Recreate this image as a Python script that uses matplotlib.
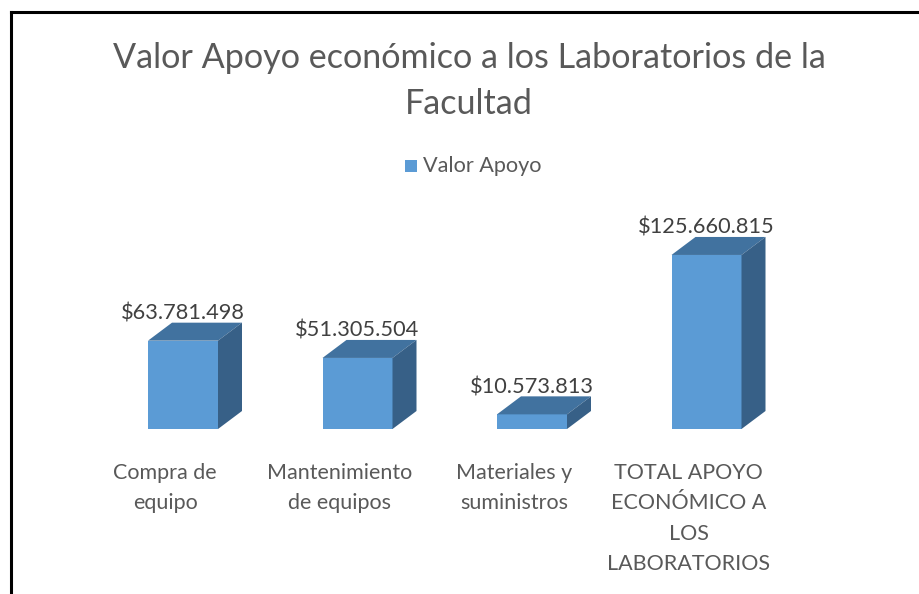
import matplotlib
matplotlib.use("Agg")
import matplotlib.pyplot as plt
from matplotlib.patches import Polygon, Rectangle
from matplotlib.lines import Line2D

categories = ["Compra de\nequipo", "Mantenimiento\nde equipos", "Materiales y\nsuministros",
              "TOTAL APOYO\nECONÓMICO A\nLOS\nLABORATORIOS"]
values = [63781498, 51305504, 10573813, 125660815]
value_labels = ["$63.781.498", "$51.305.504", "$10.573.813", "$125.660.815"]
series_name = "Valor Apoyo"
title = "Valor Apoyo económico a los Laboratorios de la\nFacultad"

FONT = "Lato"
plt.rcParams["font.family"] = [FONT, "DejaVu Sans"]
TXT = "#595959"
FRONT = "#5B9BD5"
TOP = "#41729F"
SIDE = "#376087"

W, H = 919, 594
fig = plt.figure(figsize=(W / 100, H / 100), dpi=100)

# axes placement (pixels)
base_px = 429
px_per_unit_y = 1.385e-6
ymax = 150e6
ax_h = ymax * px_per_unit_y
left_px, width_px = 95.75, 698
ax = fig.add_axes([left_px / W, (H - base_px) / H, width_px / W, ax_h / H])
ax.set_xlim(-0.5, 3.5)
ax.set_ylim(0, ymax)
ax.axis("off")

bw = 70 / (width_px / 4)
dx = 24 / (width_px / 4)
dy = 18 / px_per_unit_y

for i, v in enumerate(values):
    x0, x1 = i - bw / 2, i + bw / 2
    ax.add_patch(Rectangle((x0, 0), bw, v, facecolor=FRONT, edgecolor="none", clip_on=False))
    ax.add_patch(Polygon([(x0, v), (x1, v), (x1 + dx, v + dy), (x0 + dx, v + dy)],
                         closed=True, facecolor=TOP, edgecolor="none", clip_on=False))
    ax.add_patch(Polygon([(x1, 0), (x1 + dx, dy), (x1 + dx, v + dy), (x1, v)],
                         closed=True, facecolor=SIDE, edgecolor="none", clip_on=False))
    ax.annotate(value_labels[i], (i, v + dy), xytext=(0, 9), textcoords="offset pixels",
                ha="center", va="center", fontsize=15.7, color="#404040", annotation_clip=False)
    ax.annotate(categories[i], (i, 0), xytext=(-18, -34), textcoords="offset pixels",
                ha="center", va="top", fontsize=15.5, color=TXT, linespacing=1.65,
                annotation_clip=False)

fig.text(469 / W, 1 - 81 / H, title, ha="center", va="center", fontsize=24.6, color=TXT,
         linespacing=1.55)

# legend
fig.patches.append(Rectangle((405 / W, 1 - 172 / H), 12 / W, 12 / H, transform=fig.transFigure,
                             facecolor=FRONT, edgecolor="none"))
fig.text(423 / W, 1 - 166 / H, series_name, ha="left", va="center", fontsize=15.6, color=TXT)

# border
fig.add_artist(Line2D([11 / W, 11 / W], [0, 1 - 12 / H], transform=fig.transFigure, color="black", lw=2.2))
fig.add_artist(Line2D([11 / W, 1], [1 - 12 / H, 1 - 12 / H], transform=fig.transFigure, color="black", lw=2.2))

fig.savefig("out.png", dpi=100, facecolor="white")
